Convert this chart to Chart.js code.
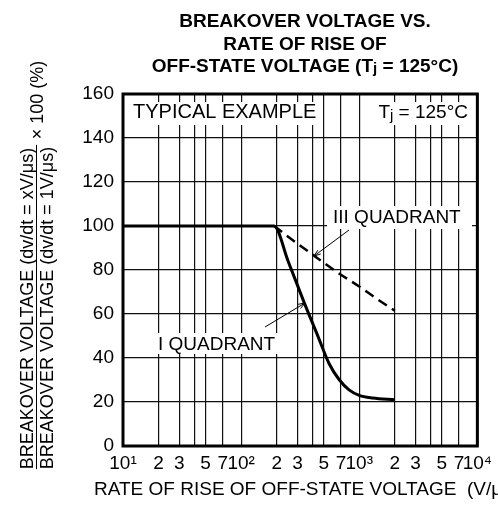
<!DOCTYPE html>
<html lang="en">
<head>
  <meta charset="UTF-8">
  <title>Breakover Voltage vs. Rate of Rise of Off-State Voltage</title>
  <style>
    body { margin: 0; background: #fff; }
  </style>
</head>
<body>
  <canvas id="bvChart" width="498" height="520"></canvas>
  <script src="https://cdn.jsdelivr.net/npm/chart.js"></script>
  <script>
    // tick positions and labels (log axis, gridlines at 1,2,3,4,5,7 per decade)
    const xTickValues = [10, 20, 30, 40, 50, 70, 100, 200, 300, 400, 500, 700, 1000, 2000, 3000, 4000, 5000, 7000, 10000];
    const xTickLabels = ['10¹', '2', '3', '', '5', '7', '10²', '2', '3', '', '5', '7', '10³', '2', '3', '', '5', '7', '10⁴'];
    const yTickValues = [0, 20, 40, 60, 80, 100, 120, 140, 160];

    // I quadrant (solid)
    const quad1X = [10, 190, 250, 340, 450, 555, 680, 820, 1000, 1300, 2000];
    const quad1Y = [100, 100, 84, 65.5, 49.5, 37.5, 30, 25.5, 23, 21.8, 21];

    // III quadrant (dashed)
    const quad3X = [190, 300, 440, 650, 1000, 1400, 2000];
    const quad3Y = [100, 92, 85.5, 79, 72.5, 67, 61.5];

    const FONT = '"Liberation Sans", Arial, sans-serif';

    function drawRich(ctx, parts, x, y, align) {
      let total = 0;
      parts.forEach(p => {
        ctx.font = (p.bold ? 'bold ' : '') + p.size + 'px ' + FONT;
        p.w = ctx.measureText(p.t).width;
        total += p.w;
      });
      let cx = align === 'center' ? x - total / 2 : align === 'right' ? x - total : x;
      ctx.textAlign = 'left';
      ctx.textBaseline = 'alphabetic';
      parts.forEach(p => {
        ctx.font = (p.bold ? 'bold ' : '') + p.size + 'px ' + FONT;
        ctx.fillText(p.t, cx, y + (p.dy || 0));
        cx += p.w;
      });
    }

    function leader(ctx, x1, y1, x2, y2) {
      ctx.save();
      ctx.strokeStyle = '#000';
      ctx.lineWidth = 1;
      ctx.beginPath();
      ctx.moveTo(x1, y1);
      ctx.lineTo(x2, y2);
      ctx.stroke();
      const ang = Math.atan2(y2 - y1, x2 - x1);
      const len = 7, spread = 0.35;
      ctx.beginPath();
      ctx.moveTo(x2, y2);
      ctx.lineTo(x2 - len * Math.cos(ang - spread), y2 - len * Math.sin(ang - spread));
      ctx.moveTo(x2, y2);
      ctx.lineTo(x2 - len * Math.cos(ang + spread), y2 - len * Math.sin(ang + spread));
      ctx.stroke();
      ctx.restore();
    }

    const decor = {
      id: 'decor',
      beforeDraw(chart) {
        const ctx = chart.ctx;
        ctx.save();
        ctx.fillStyle = '#fff';
        ctx.fillRect(0, 0, chart.width, chart.height);
        ctx.restore();
      },
      afterDatasetsDraw(chart) {
        const ctx = chart.ctx;
        const a = chart.chartArea;
        ctx.save();

        // white boxes behind labels
        ctx.fillStyle = '#fff';
        ctx.fillRect(a.left + 2, 102, 198, 23);
        ctx.fillRect(366, 102, a.right - 368, 23);
        ctx.fillRect(327, 206, 145, 23);
        ctx.fillRect(156, 333, 125, 21);

        ctx.fillStyle = '#000';
        drawRich(ctx, [{ t: 'TYPICAL EXAMPLE', size: 20 }], 133, 118, 'left');
        drawRich(ctx, [
          { t: 'T', size: 19 },
          { t: 'j', size: 15, dy: 2 },
          { t: ' = 125°C', size: 19 }
        ], 468, 118, 'right');
        drawRich(ctx, [{ t: 'III QUADRANT', size: 19 }], 333, 223, 'left');
        drawRich(ctx, [{ t: 'I QUADRANT', size: 19 }], 158, 350, 'left');

        leader(ctx, 349, 230, 314, 256);
        leader(ctx, 265, 327, 305, 303);

        // plot frame
        ctx.strokeStyle = '#000';
        ctx.lineWidth = 3;
        ctx.strokeRect(a.left, a.top, a.right - a.left, a.bottom - a.top);
        ctx.restore();
      },
      afterDraw(chart) {
        const ctx = chart.ctx;
        ctx.save();
        ctx.fillStyle = '#000';

        // title
        const tx = 305;
        drawRich(ctx, [{ t: 'BREAKOVER VOLTAGE VS.', size: 19, bold: true }], tx, 27, 'center');
        drawRich(ctx, [{ t: 'RATE OF RISE OF', size: 19, bold: true }], tx, 49.5, 'center');
        drawRich(ctx, [
          { t: 'OFF-STATE VOLTAGE (T', size: 19, bold: true },
          { t: 'j', size: 15, bold: true, dy: 1 },
          { t: ' = 125°C)', size: 19, bold: true }
        ], tx, 72, 'center');

        // x axis title (runs off the right edge, as in the original)
        drawRich(ctx, [{ t: 'RATE OF RISE OF OFF-STATE VOLTAGE  (V/μs)', size: 19 }], 94, 495, 'left');

        // y axis title (fraction)
        ctx.rotate(-Math.PI / 2);
        const cy = 308;
        ctx.font = '18px ' + FONT;
        const num = 'BREAKOVER VOLTAGE (dv/dt = xV/μs)';
        const den = 'BREAKOVER VOLTAGE (dv/dt = 1V/μs)';
        const w = Math.max(ctx.measureText(num).width, ctx.measureText(den).width);
        ctx.textAlign = 'left';
        ctx.textBaseline = 'alphabetic';
        ctx.fillText(num, -cy - w / 2, 33);
        ctx.fillText(den, -cy - w / 2, 53);
        ctx.strokeStyle = '#000';
        ctx.lineWidth = 1;
        ctx.beginPath();
        ctx.moveTo(-cy - w / 2, 36.5);
        ctx.lineTo(-cy + w / 2 + 2, 36.5);
        ctx.stroke();
        ctx.textAlign = 'center';
        ctx.fillText('× 100 (%)', -100, 42.5);
        ctx.restore();
      }
    };

    const ctx = document.getElementById('bvChart');
    new Chart(ctx, {
      type: 'line',
      data: {
        datasets: [
          {
            label: 'I QUADRANT',
            data: quad1X.map((x, i) => ({ x: x, y: quad1Y[i] })),
            borderColor: '#000',
            borderWidth: 3,
            pointRadius: 0,
            cubicInterpolationMode: 'monotone',
            fill: false
          },
          {
            label: 'III QUADRANT',
            data: quad3X.map((x, i) => ({ x: x, y: quad3Y[i] })),
            borderColor: '#000',
            borderWidth: 2.5,
            borderDash: [10, 6],
            pointRadius: 0,
            cubicInterpolationMode: 'monotone',
            fill: false
          }
        ]
      },
      options: {
        responsive: false,
        animation: false,
        layout: { padding: { left: 0, right: 19, top: 94, bottom: 0 } },
        plugins: {
          legend: { display: false },
          tooltip: { enabled: false },
          title: { display: false }
        },
        scales: {
          x: {
            type: 'logarithmic',
            min: 10,
            max: 10000,
            afterBuildTicks: s => { s.ticks = xTickValues.map(v => ({ value: v })); },
            afterFit: s => { s.height = 74; },
            ticks: {
              autoSkip: false,
              maxRotation: 0,
              minRotation: 0,
              padding: 6,
              color: '#000',
              font: { family: FONT, size: 19 },
              callback: v => xTickLabels[xTickValues.indexOf(v)]
            },
            grid: { color: '#111', lineWidth: 1.2, drawTicks: false },
            border: { display: false }
          },
          y: {
            min: 0,
            max: 160,
            afterBuildTicks: s => { s.ticks = yTickValues.map(v => ({ value: v })); },
            afterFit: s => { s.width = 123; },
            ticks: {
              padding: 9,
              color: '#000',
              font: { family: FONT, size: 19 }
            },
            grid: { color: '#111', lineWidth: 1.2, drawTicks: false },
            border: { display: false }
          }
        }
      },
      plugins: [decor]
    });
  </script>
</body>
</html>
